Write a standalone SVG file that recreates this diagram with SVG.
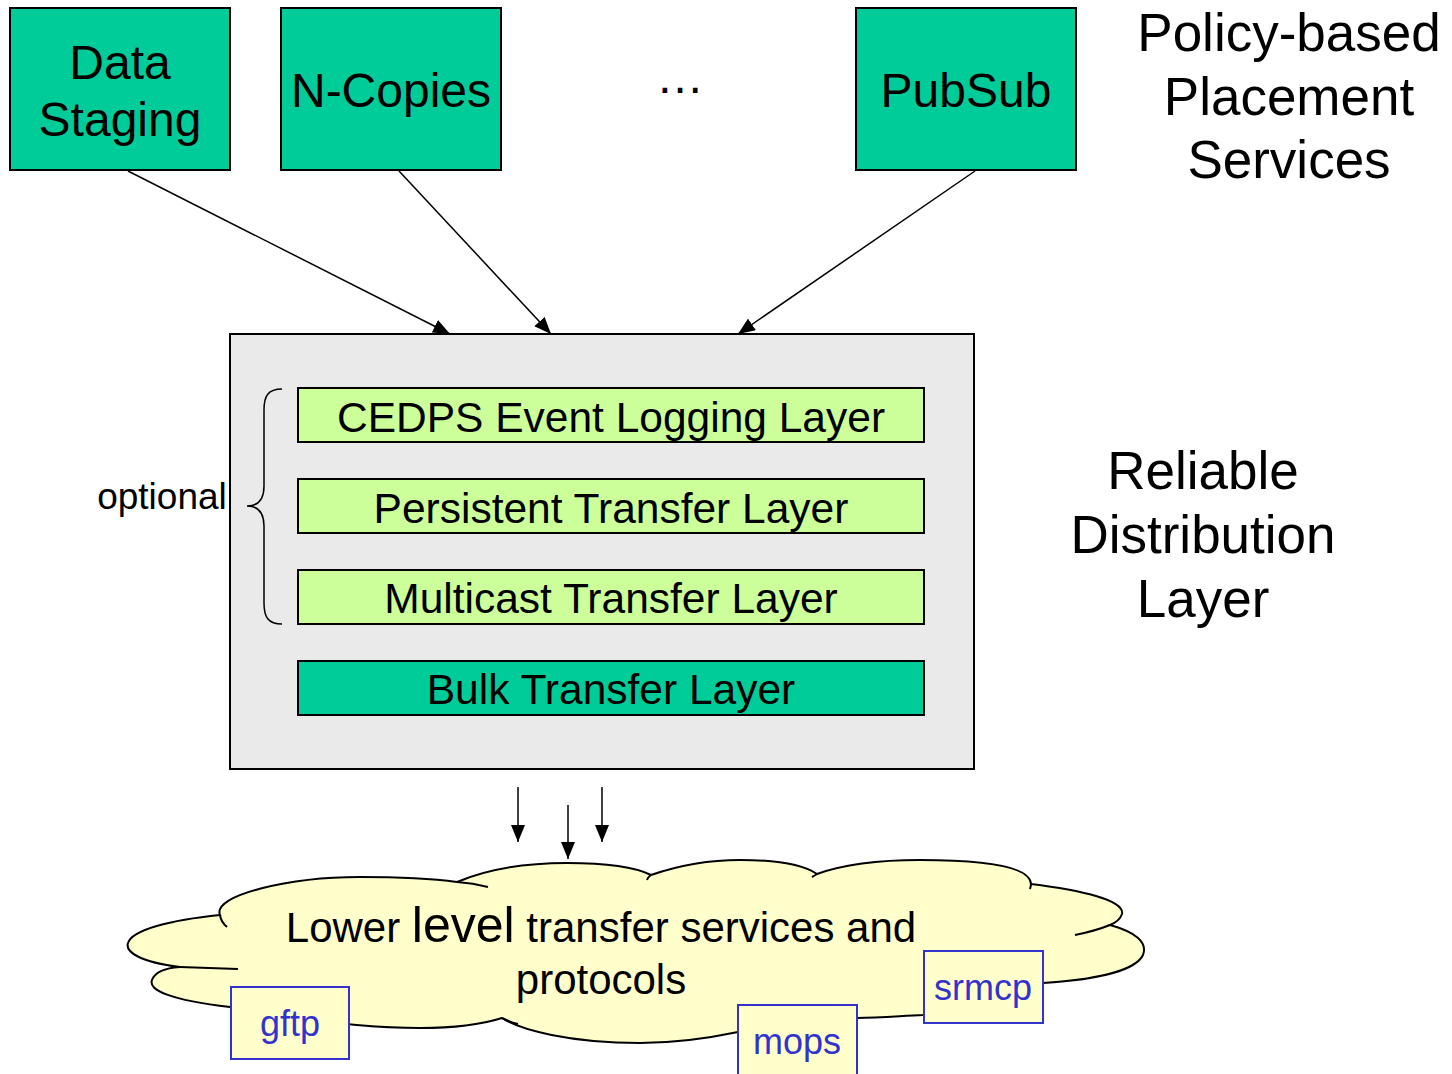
<svg xmlns="http://www.w3.org/2000/svg" width="1452" height="1074" viewBox="0 0 1452 1074">
<style>
text{font-family:"Liberation Sans",Arial,sans-serif;fill:#000}
.top{fill:#00CC99;stroke:#000;stroke-width:2}
.layer{fill:#CCFF99;stroke:#000;stroke-width:2}
.bulk{fill:#00CC99;stroke:#000;stroke-width:2}
.proto{fill:#FFFFCC;stroke:#3333CC;stroke-width:2}
.ptxt{fill:#3333CC;font-size:36px}
.big{font-size:48px}
.lbl{font-size:53px}
.lay{font-size:42.5px}
.conn{stroke:#000;stroke-width:1.5;fill:none}
.cl{fill:none;stroke:#000;stroke-width:2}
</style>
<defs>
<marker id="ah" markerWidth="17" markerHeight="14" refX="17" refY="7" orient="auto" markerUnits="userSpaceOnUse">
<path d="M0,0 L17,7 L0,14 Z" fill="#000"/>
</marker>
</defs>
<g id="data-staging">
<rect class="top" x="10" y="8" width="220" height="162"/>
<text class="big" x="120" y="79" text-anchor="middle">Data</text>
<text class="big" x="120" y="136" text-anchor="middle">Staging</text>
</g>
<g id="n-copies">
<rect class="top" x="281" y="8" width="220" height="162"/>
<text class="big" x="391" y="107" text-anchor="middle">N-Copies</text>
</g>
<g id="ellipsis">
<text class="big" x="680" y="93" text-anchor="middle">…</text>
</g>
<g id="pubsub">
<rect class="top" x="856" y="8" width="220" height="162"/>
<text class="big" x="966" y="107" text-anchor="middle">PubSub</text>
</g>
<g id="policy-label">
<text class="lbl" x="1289" y="51" text-anchor="middle">Policy-based</text>
<text class="lbl" x="1289" y="115" text-anchor="middle">Placement</text>
<text class="lbl" x="1289" y="178" text-anchor="middle">Services</text>
</g>
<g id="reliable-distribution">
<rect x="230" y="334" width="744" height="435" fill="#EAEAEA" stroke="#000" stroke-width="2"/>
<g id="cedps"><rect class="layer" x="298" y="388" width="626" height="54"/><text class="lay" x="611" y="432" text-anchor="middle">CEDPS Event Logging Layer</text></g>
<g id="persistent"><rect class="layer" x="298" y="479" width="626" height="54"/><text class="lay" x="611" y="523" text-anchor="middle">Persistent Transfer Layer</text></g>
<g id="multicast"><rect class="layer" x="298" y="570" width="626" height="54"/><text class="lay" x="611" y="613" text-anchor="middle">Multicast Transfer Layer</text></g>
<g id="bulk"><rect class="bulk" x="298" y="661" width="626" height="54"/><text class="lay" x="611" y="704" text-anchor="middle">Bulk Transfer Layer</text></g>
<path d="M282,389 C268,389 264,396 264,410 L264,486 C264,500 258,506 247,506 C258,506 264,512 264,526 L264,603 C264,617 268,624 282,624" fill="none" stroke="#000" stroke-width="1.5"/>
<text x="162" y="509" font-size="37" text-anchor="middle">optional</text>
</g>
<g id="reliable-label">
<text class="lbl" x="1203" y="489" text-anchor="middle">Reliable</text>
<text class="lbl" x="1203" y="553" text-anchor="middle">Distribution</text>
<text class="lbl" x="1203" y="617" text-anchor="middle">Layer</text>
</g>
<g id="cloud">
<path d="M220,915 C212,895 290,877 360,877 C400,877 435,879 457,882 C490,868 530,863 567,863 C605,863 635,867 651,875 C680,865 710,860 740,860 C780,860 805,866 817,874 C850,862 890,860 920,860 C985,860 1030,866 1031,884 C1080,890 1125,900 1122,914 C1120,920 1115,923 1110,925 C1135,932 1148,942 1143,955 C1135,972 1090,980 1043,983 L923,1015 C900,1016 880,1018 857,1018 L738,1032 C700,1040 670,1043 640,1043 C570,1043 520,1030 502,1018 C480,1025 450,1028 420,1028 C370,1028 300,1020 230,1007 C170,1000 148,990 152,980 C155,972 165,968 180,967 C140,962 125,952 128,943 C132,930 170,920 220,915 Z" fill="#FFFFCC" stroke="#000" stroke-width="2"/>
<path class="cl" d="M220,915 Q221,922 227,927 M457,882 Q473,883 488,887 M651,875 Q648,877 647,880 M817,874 Q814,876 812,877 M1031,884 Q1031,886 1030,889 M1110,925 Q1095,931 1075,935 M180,967 Q210,968 238,969 M502,1018 Q510,1022 518,1024"/>
<text font-size="42" x="601" y="942" text-anchor="middle">Lower <tspan font-size="50">level</tspan> transfer services and</text>
<text font-size="42" x="601" y="994" text-anchor="middle">protocols</text>
</g>
<g id="gftp"><rect class="proto" x="231" y="987" width="118" height="72"/><text class="ptxt" x="290" y="1036" text-anchor="middle">gftp</text></g>
<g id="mops"><rect class="proto" x="738" y="1005" width="119" height="72"/><text class="ptxt" x="797" y="1054" text-anchor="middle">mops</text></g>
<g id="srmcp"><rect class="proto" x="924" y="951" width="119" height="72"/><text class="ptxt" x="983" y="1000" text-anchor="middle">srmcp</text></g>
<g id="connectors">
<line class="conn" x1="128" y1="171" x2="450" y2="334" marker-end="url(#ah)"/>
<line class="conn" x1="399" y1="171" x2="551" y2="334" marker-end="url(#ah)"/>
<line class="conn" x1="975" y1="171" x2="738" y2="334" marker-end="url(#ah)"/>
<line class="conn" x1="518" y1="787" x2="518" y2="842" marker-end="url(#ah)"/>
<line class="conn" x1="568" y1="805" x2="568" y2="859" marker-end="url(#ah)"/>
<line class="conn" x1="602" y1="787" x2="602" y2="842" marker-end="url(#ah)"/>
</g>
</svg>
